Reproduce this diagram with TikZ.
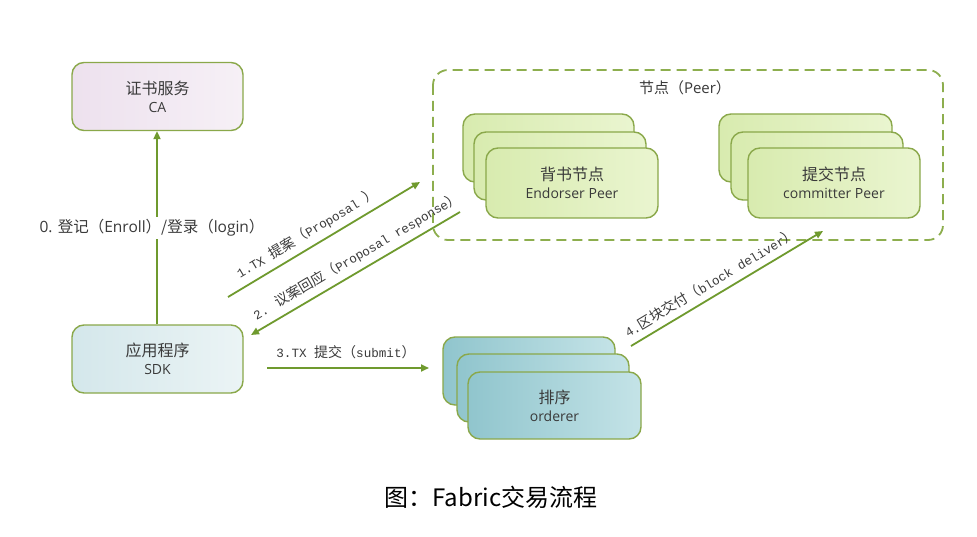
\documentclass[tikz,border=0pt]{standalone}
\usepackage{fontspec}
\usetikzlibrary{arrows.meta}
\setmainfont{Open Sans}
\newfontfamily\cjk{Noto Sans CJK SC}
\newfontfamily\mymono[Scale=0.9]{Liberation Mono}
\newcommand\myzh[1]{{\cjk #1}}
\newcommand\mymo[1]{{\mymono #1}}
\definecolor{boxline}{HTML}{8AA84A}
\definecolor{framec}{HTML}{8DAE4E}
\definecolor{arrowc}{HTML}{6F9A2E}
\definecolor{caA}{HTML}{EDE1EE}
\definecolor{caB}{HTML}{F6F0F6}
\definecolor{sdkA}{HTML}{D4E7EB}
\definecolor{sdkB}{HTML}{EBF4F5}
\definecolor{peerA}{HTML}{D8EBAF}
\definecolor{peerB}{HTML}{EAF5D0}
\definecolor{ordA}{HTML}{90C5CD}
\definecolor{ordB}{HTML}{C4E3E7}
\definecolor{txt}{HTML}{3A3A3A}
\begin{document}
\begin{tikzpicture}[x=1pt,y=-1pt,
  box/.style={draw=boxline, line width=1.4pt, rounded corners=12pt,
    minimum width=171pt, minimum height=68pt, inner sep=0pt,
    align=center, text=txt, font=\fontsize{14}{18}\selectfont},
  cabox/.style={box, left color=caA, right color=caB},
  sdkbox/.style={box, left color=sdkA, right color=sdkB},
  peerbox/.style={box, left color=peerA, right color=peerB},
  ordbox/.style={box, left color=ordA, right color=ordB},
  arr/.style={draw=arrowc, line width=1.8pt, -{Triangle[width=7pt,length=8pt]}},
  lab/.style={text=txt, font=\fontsize{14}{16}\selectfont, inner sep=2pt}
]
\useasboundingbox (0,0) rectangle (977,537);
\fill[white] (0,0) rectangle (977,537);

% CA and SDK
\node[cabox] (ca) at (157.5,96.5) {\myzh{\fontsize{16}{19}\selectfont 证书服务}\\CA};
\node[sdkbox] (sdk) at (157.5,359) {\myzh{\fontsize{16}{19}\selectfont 应用程序}\\SDK};

% Peer frame
\draw[framec, line width=1.8pt, dash pattern=on 10pt off 6pt, rounded corners=15pt]
  (433,70) rectangle (943,240);
\node[lab, font=\fontsize{15}{17}\selectfont] (peerlab) at (685,88) {\myzh{节点（}Peer\myzh{）}};

% Endorser stack
\node[peerbox] (e1) at (548.5,148) {};
\node[peerbox, minimum width=172pt] (e2) at (560,166) {};
\node[peerbox, minimum width=172pt, minimum height=70pt] (e3) at (572,183)
  {\myzh{\fontsize{16}{19}\selectfont 背书节点}\\Endorser Peer};

% Committer stack
\node[peerbox, minimum width=173pt] (c1) at (805.5,148) {};
\node[peerbox, minimum width=172pt] (c2) at (817,166) {};
\node[peerbox, minimum width=172pt, minimum height=70pt] (c3) at (834,183)
  {\myzh{\fontsize{16}{19}\selectfont 提交节点}\\committer Peer};

% Orderer stack
\node[ordbox, minimum width=172pt] (o1) at (529,371) {};
\node[ordbox, minimum width=172pt] (o2) at (543,388) {};
\node[ordbox, minimum width=173pt, minimum height=67pt] (o3) at (554.5,405.5)
  {\myzh{\fontsize{16}{21}\selectfont 排序}\\orderer};

% Arrow 0: SDK -> CA
\draw[arr, line width=2pt] ([xshift=-0.5pt]sdk.north) -- ([xshift=-0.5pt]ca.south);
\node[lab, fill=white, inner xsep=1pt, inner ysep=3pt, font=\fontsize{15.5}{17}\selectfont] (l0) at (152,228)
  {0. \myzh{登记（}Enroll\myzh{）/登录（}login\myzh{）}};

% Arrow 1
\coordinate (a1s) at (228,297);
\coordinate (a1e) at (420,182);
\draw[arr] (a1s) -- node[sloped, above=4pt, pos=0.45, lab] (l1)
  {\mymo{1.TX }\myzh{提案（}\mymo{Proposal }\myzh{）}} (a1e);

% Arrow 2
\coordinate (a2s) at (460,212);
\coordinate (a2e) at (251,335);
\draw[arr] (a2s) -- node[sloped, above=4pt, pos=0.46, lab] (l2)
  {\mymo{2. }\myzh{议案回应（}\mymo{Proposal response}\myzh{）}} (a2e);

% Arrow 3
\coordinate (a3s) at (267,368);
\coordinate (a3e) at (429,368);
\draw[arr] (a3s) -- (a3e);
\node[lab] (l3) at (346,352) {\mymo{3.TX }\myzh{提交（}\mymo{submit}\myzh{）}};

% Arrow 4
\coordinate (a4s) at (631,346);
\coordinate (a4e) at (823,231);
\draw[arr] (a4s) -- node[sloped, above=4pt, pos=0.45, lab] (l4)
  {\mymo{4.}\myzh{区块交付（}\mymo{block deliver}\myzh{）}} (a4e);

% Caption
\node[text=black, font=\fontsize{24}{28}\selectfont\cjk] (cap) at (491,497) {图：Fabric交易流程};
\end{tikzpicture}
\end{document}
